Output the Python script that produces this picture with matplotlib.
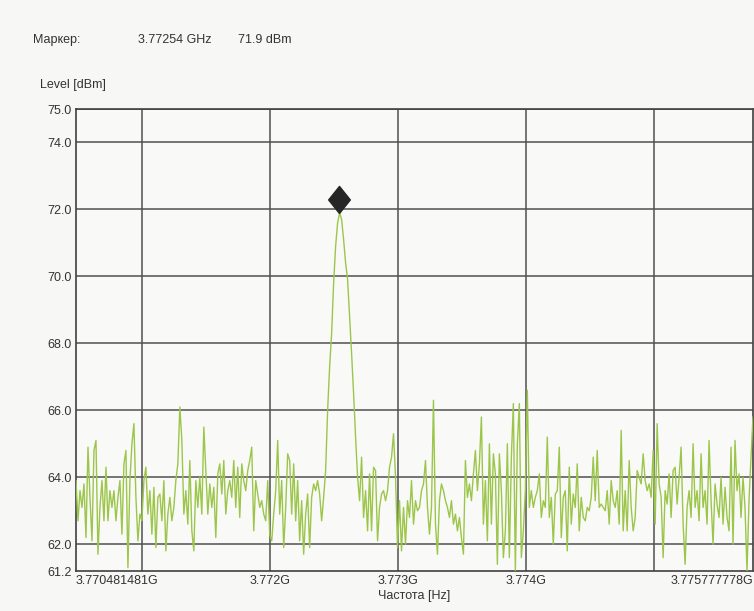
import numpy as np
import matplotlib
matplotlib.use("Agg")
import matplotlib.pyplot as plt
from matplotlib.path import Path

plt.rcParams['font.family'] = ['Liberation Sans', 'DejaVu Sans']

# sweep limits (GHz) and trace levels (dBm)
f_start = 3.770481481
f_stop = 3.775777778
levels = [
    63.9, 62.7, 63.6, 63.1, 63.8, 62.2, 64.9, 63.4, 62.1, 64.8,
    65.1, 61.7, 63.1, 63.9, 62.7, 64.3, 62.7, 63.6, 63.1, 63.6,
    62.7, 63.4, 63.9, 62.3, 64.4, 64.8, 61.3, 63.9, 65.0, 65.6,
    63.4, 62.1, 62.9, 62.7, 63.9, 64.3, 62.9, 63.6, 62.3, 63.7,
    61.9, 63.4, 63.5, 62.7, 63.9, 61.8, 62.9, 63.4, 62.7, 63.1,
    63.9, 64.4, 66.1, 65.1, 62.9, 63.6, 62.6, 64.5, 62.4, 61.8,
    63.9, 63.1, 64.0, 62.9, 65.5, 64.2, 62.9, 63.8, 63.1, 63.7,
    62.2, 64.1, 64.4, 63.5, 64.5, 62.9, 63.6, 63.9, 63.4, 64.5,
    63.1, 64.3, 62.8, 64.4, 63.9, 63.6, 64.2, 64.5, 64.9, 62.4,
    63.9, 63.5, 63.1, 63.3, 62.9, 62.7, 63.9, 62.3, 62.1, 62.9,
    63.6, 65.1, 62.9, 63.9, 61.9, 63.1, 64.7, 64.5, 62.9, 64.4,
    62.7, 63.9, 62.1, 63.3, 61.7, 62.9, 63.5, 61.9, 63.4, 63.8,
    63.6, 63.9, 63.5, 62.7, 63.4,
    # carrier
    64.2, 66.0, 67.3, 68.3, 69.8, 70.9, 71.6, 71.9, 71.7, 71.1,
    70.4, 69.9, 68.8, 67.7, 66.5, 65.2, 64.0, 63.3,
    # right of carrier
    64.6, 62.8, 63.6, 62.4, 64.1, 62.4, 64.3, 64.2, 62.1, 63.1,
    63.5, 63.6, 63.3, 63.6, 64.3, 64.6, 65.3, 64.0, 61.9, 63.3,
    61.8, 63.1, 62.0, 63.3, 62.8, 63.9, 62.6, 63.3, 63.0, 63.1,
    63.6, 63.8, 64.5, 63.1, 62.3, 63.1, 66.3, 62.6, 61.7, 63.3,
    63.8, 63.6, 63.3, 63.1, 62.8, 63.3, 62.6, 62.9, 62.4, 62.8,
    62.2, 61.7, 64.5, 63.4, 63.8, 63.3, 64.1, 64.8, 63.6, 64.4,
    65.8, 62.6, 63.9, 62.1, 65.0, 62.6, 64.7, 64.1, 61.4, 64.7,
    63.6, 61.6, 62.4, 65.0, 61.6, 64.6, 66.2, 61.2, 65.0, 66.2,
    61.6, 62.4, 63.6, 66.6, 63.1, 63.6, 63.1, 63.4, 63.6, 64.1,
    62.8, 63.3, 63.1, 65.2, 62.8, 63.4, 62.0, 63.5, 63.6, 64.9,
    62.2, 63.4, 63.6, 61.8, 64.3, 62.6, 63.5, 63.1, 64.4, 62.4,
    63.4, 62.8, 62.7, 63.1, 63.0, 63.4, 64.6, 63.3, 64.8, 63.1,
    63.2, 63.1, 63.0, 63.6, 62.6, 63.9, 63.3, 63.1, 63.6, 62.6,
    65.4, 62.4, 63.6, 62.4, 64.5, 63.1, 62.4, 62.8, 64.2, 64.0,
    63.8, 64.7, 63.9, 63.6, 63.8, 63.4, 64.8, 62.6, 65.6, 63.8,
    63.4, 61.6, 63.6, 63.2, 64.1, 62.8, 64.2, 64.3, 63.2, 64.0,
    64.9, 62.6, 61.4, 63.1, 63.6, 62.8, 65.0, 63.1, 63.6, 62.7,
    64.7, 63.1, 63.6, 62.6, 65.1, 63.3, 62.0, 63.8, 63.2, 62.8,
    64.0, 62.6, 63.7, 62.8, 62.4, 64.9, 62.0, 65.1, 63.6, 64.1,
    62.8, 64.0, 63.1, 61.2, 63.3, 64.6, 65.8,
]
freqs = np.linspace(f_start, f_stop, len(levels))

marker_freq = 3.77254
marker_level = 71.9

x_ticks = [f_start, 3.771, 3.772, 3.773, 3.774, 3.775, f_stop]
x_labels = ['3.770481481G', '', '3.772G', '3.773G', '3.774G', '', '3.775777778G']
y_ticks = [61.2, 62.0, 64.0, 66.0, 68.0, 70.0, 72.0, 74.0, 75.0]

W, H = 754, 611
fig = plt.figure(figsize=(W / 100, H / 100), dpi=100, facecolor='#f7f7f5')
ax = fig.add_axes([76 / W, 1 - 571 / H, (753 - 76) / W, (571 - 109) / H])
ax.set_facecolor('#f9f9f8')

grid_c = '#505050'
for t in x_ticks[1:-1]:
    ax.axvline(t, color=grid_c, lw=1.1, zorder=1)
for t in y_ticks[1:]:
    ax.axhline(t, color=grid_c, lw=1.1, zorder=1)

ax.plot(freqs, levels, color='#9cc64a', lw=1.0, zorder=3)

# marker: diamond sitting on the peak
diamond = Path([(0, 0), (0.8, 1), (0, 2), (-0.8, 1), (0, 0)],
               [Path.MOVETO, Path.LINETO, Path.LINETO, Path.LINETO, Path.CLOSEPOLY])
ax.plot([marker_freq], [marker_level], marker=diamond, ms=39, color='#262626',
        ls='none', zorder=4)

ax.set_xlim(f_start, f_stop)
ax.set_ylim(61.2, 75.0)
ax.set_xticks(x_ticks)
ax.set_xticklabels(x_labels)
ax.set_yticks(y_ticks)
ax.set_yticklabels(['%.1f' % v for v in y_ticks])
ax.tick_params(length=0, labelsize=9, colors='#333333', pad=3)
labs = ax.get_xticklabels()
labs[0].set_ha('left')
labs[-1].set_ha('right')

for s in ax.spines.values():
    s.set_color('#404040')
    s.set_linewidth(1.2)

ax.set_xlabel('Частота [Hz]', fontsize=9, color='#333333', labelpad=2)

tc = '#333333'
fig.text(33 / W, 1 - 40 / H, 'Маркер:', fontsize=9, color=tc, va='center')
fig.text(138 / W, 1 - 40 / H, '3.77254 GHz', fontsize=9, color=tc, va='center')
fig.text(238 / W, 1 - 40 / H, '71.9 dBm', fontsize=9, color=tc, va='center')
fig.text(40 / W, 1 - 85 / H, 'Level [dBm]', fontsize=9, color=tc, va='center')

fig.savefig('out.png', dpi=100, facecolor=fig.get_facecolor())
